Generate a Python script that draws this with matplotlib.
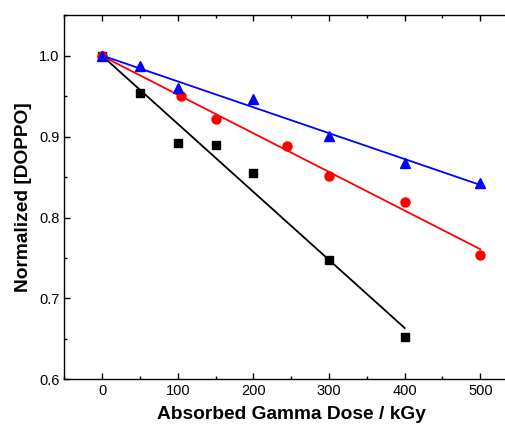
import numpy as np
from matplotlib import pyplot as plt

plt.rcParams['font.family'] = ['Liberation Sans', 'DejaVu Sans']

# data
dose_sq = [0, 50, 100, 150, 200, 300, 400]
doppo_sq = [1.000, 0.954, 0.892, 0.890, 0.855, 0.748, 0.652]

dose_ci = [0, 104, 151, 244, 300, 400, 500]
doppo_ci = [1.000, 0.951, 0.922, 0.889, 0.852, 0.819, 0.754]

dose_tr = [0, 50, 100, 200, 300, 400, 500]
doppo_tr = [1.000, 0.988, 0.960, 0.947, 0.901, 0.868, 0.843]

x_ticks = [0, 100, 200, 300, 400, 500]
y_ticks = [0.6, 0.7, 0.8, 0.9, 1.0]

fig = plt.figure(figsize=(5.06, 4.3), dpi=100)
ax = fig.add_axes([0.127, 0.118, 0.897, 0.846])

series = [
    (dose_sq, doppo_sq, 'black', 's', 6),
    (dose_ci, doppo_ci, 'red', 'o', 6.5),
    (dose_tr, doppo_tr, 'blue', '^', 7.5),
]
for x, y, c, m, ms in series:
    x = np.array(x, dtype=float)
    y = np.array(y)
    # linear fit through the points
    p = np.polyfit(x, y, 1)
    xf = np.array([x.min(), x.max()])
    ax.plot(xf, np.polyval(p, xf), color=c, lw=1.3)
    ax.plot(x, y, m, color=c, ms=ms, mec=c, ls='none')

ax.set_xlim(-50, 550)
ax.set_ylim(0.6, 1.05)
ax.set_xticks(x_ticks)
ax.set_xticks(np.arange(-50, 551, 50), minor=True)
ax.set_yticks(y_ticks)
ax.set_yticks(np.arange(0.6, 1.051, 0.05), minor=True)
ax.set_yticklabels(['%.1f' % v for v in y_ticks])

ax.tick_params(which='both', direction='in', top=True, right=False,
               labelsize=10.5, width=1)
ax.tick_params(which='major', length=4)
ax.tick_params(which='minor', length=2.5)
for s in ax.spines.values():
    s.set_linewidth(1)
ax.spines['right'].set_visible(False)

ax.set_xlabel('Absorbed Gamma Dose / kGy', fontsize=13.8, fontweight='bold', labelpad=6)
ax.set_ylabel('Normalized [DOPPO]', fontsize=13.8, fontweight='bold', labelpad=5)

plt.savefig('out.png', dpi=100)
